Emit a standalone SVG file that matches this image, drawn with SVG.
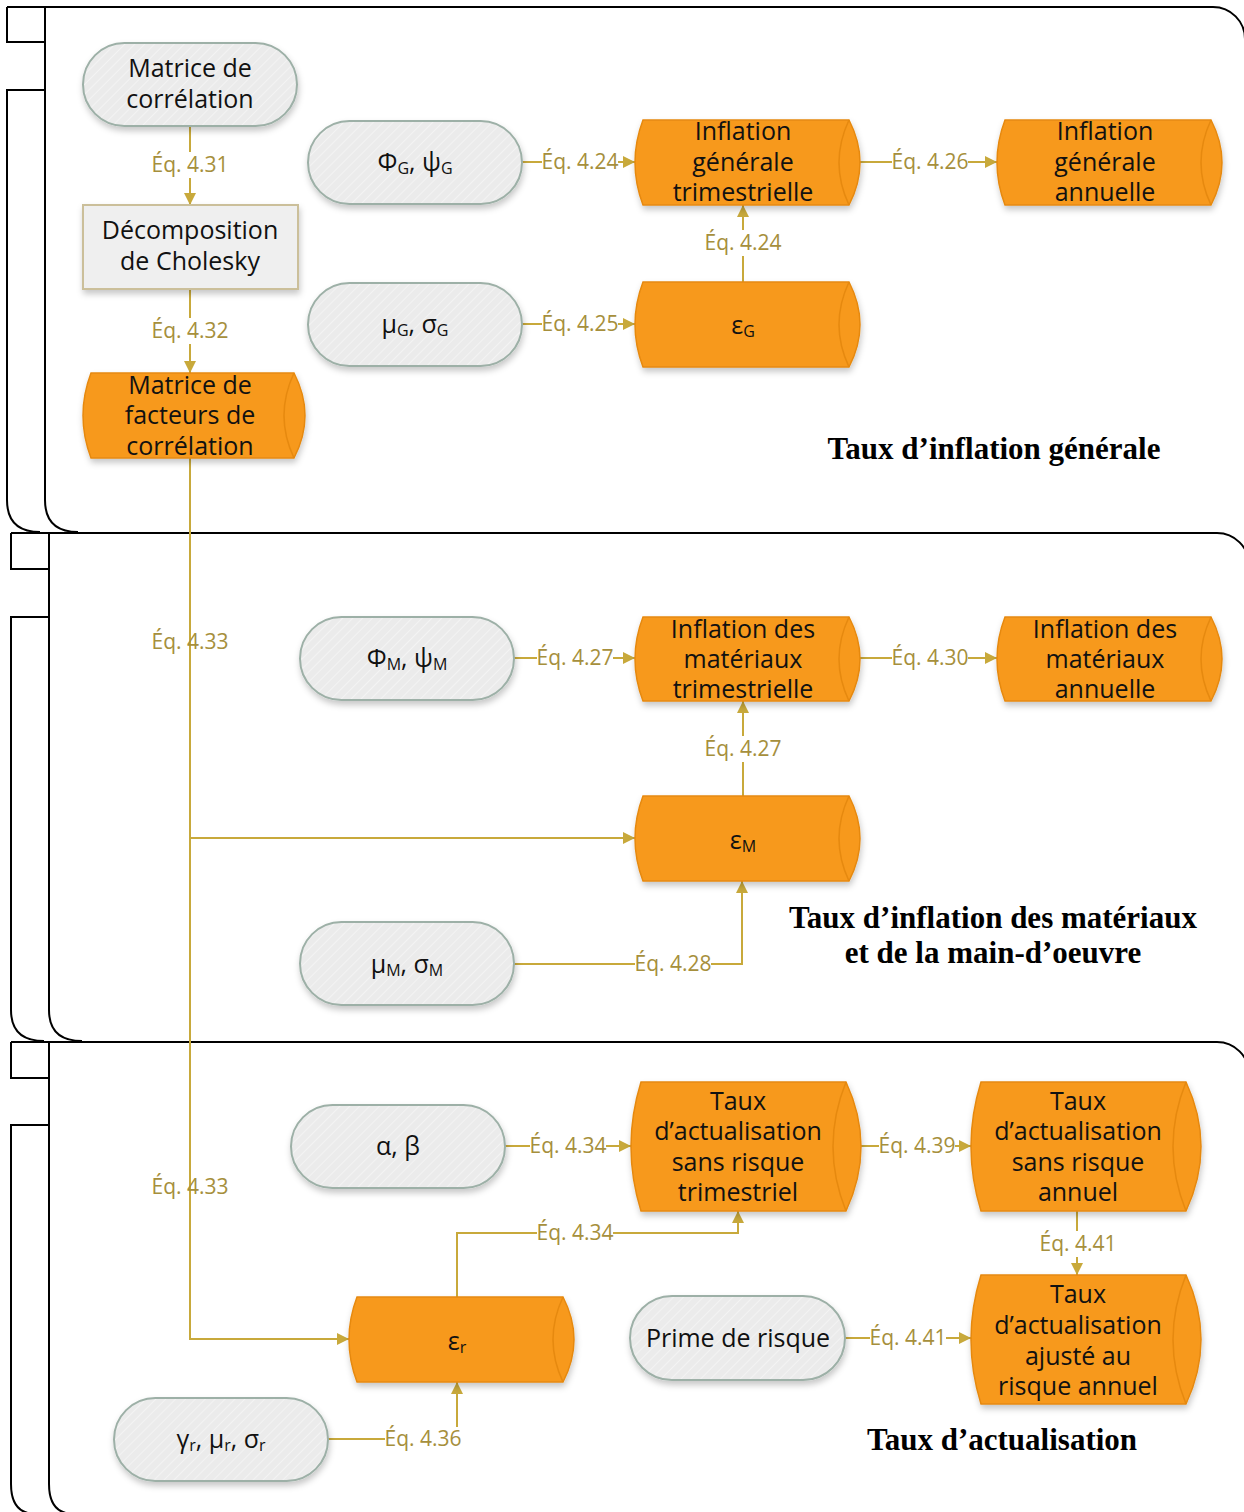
<svg xmlns="http://www.w3.org/2000/svg" width="1244" height="1512" viewBox="0 0 1244 1512">
  <defs>
    <pattern id="hatch" width="7" height="7" patternUnits="userSpaceOnUse" patternTransform="rotate(45)">
      <rect width="7" height="7" fill="#ebebeb"/>
      <line x1="0" y1="0" x2="0" y2="7" stroke="#f6f6f6" stroke-width="1.5"/>
    </pattern>
    <filter id="shadow" x="-10%" y="-15%" width="125%" height="140%">
      <feDropShadow dx="1" dy="4" stdDeviation="3" flood-color="#000" flood-opacity="0.22"/>
    </filter>
    <marker id="arrow" markerUnits="userSpaceOnUse" markerWidth="12" markerHeight="12" viewBox="0 0 12 12" refX="12" refY="6" orient="auto">
      <path d="M0,0 L12,6 L0,12 Z" fill="#c8a93b"/>
    </marker>
    <style>
      .frame { fill: none; stroke: #000; stroke-width: 2; }
      .term { fill: url(#hatch); stroke: #9db0a7; stroke-width: 2; filter: url(#shadow); }
      .proc { fill: #efefef; stroke: #cbbf9a; stroke-width: 2; filter: url(#shadow); }
      .store { fill: #f7991f; stroke: #e6890f; stroke-width: 1.5; filter: url(#shadow); }
      .inner { fill: none; stroke: #e6890f; stroke-width: 1.5; }
      .txt { font-family: "Open Sans", "Noto Sans", sans-serif; font-size: 25px; fill: #111; text-anchor: middle; }
      .sub { font-size: 16px; }
      .edge { fill: none; stroke: #c8a93b; stroke-width: 2; }
      .lbl { font-family: "Open Sans", "Noto Sans", sans-serif; font-size: 21px; fill: #a68f3c; text-anchor: middle; }
      .bg { fill: #fff; }
      .title { font-family: "Liberation Serif", "Times New Roman", serif; font-size: 31px; font-weight: bold; fill: #000; text-anchor: middle; }
    </style>
  </defs>

  <!-- container frames (component outlines) -->
  <g id="frames">
    <path class="frame" d="M7,7 H1213 A32 32 0 0 1 1245,39"/>
    <path class="frame" d="M7,7 V42 H45"/>
    <path class="frame" d="M45,90 H7 V500 Q7,532 40,532"/>
    <path class="frame" d="M45,7 V500 Q45,532 78,532"/>

    <path class="frame" d="M11,533 H1217 A32 32 0 0 1 1249,565"/>
    <path class="frame" d="M11,533 V569 H49"/>
    <path class="frame" d="M49,617 H11 V1010 Q11,1041 44,1041"/>
    <path class="frame" d="M49,533 V1010 Q49,1041 82,1041"/>

    <path class="frame" d="M11,1042 H1217 A32 32 0 0 1 1249,1074"/>
    <path class="frame" d="M11,1042 V1078 H49"/>
    <path class="frame" d="M49,1125 H11 V1484 Q11,1514 36,1514"/>
    <path class="frame" d="M49,1042 V1484 Q49,1514 74,1514"/>
  </g>

  <!-- connectors -->
  <g id="connectors">
    <path class="edge" d="M190,126 V205" marker-end="url(#arrow)"/>
    <path class="edge" d="M190,289 V373" marker-end="url(#arrow)"/>
    <path class="edge" d="M190,458 V838 H635" marker-end="url(#arrow)"/>
    <path class="edge" d="M190,838 V1339 H349" marker-end="url(#arrow)"/>
    <path class="edge" d="M522,162 H635" marker-end="url(#arrow)"/>
    <path class="edge" d="M860,162 H997" marker-end="url(#arrow)"/>
    <path class="edge" d="M743,282 V205" marker-end="url(#arrow)"/>
    <path class="edge" d="M522,324 H635" marker-end="url(#arrow)"/>
    <path class="edge" d="M514,658 H635" marker-end="url(#arrow)"/>
    <path class="edge" d="M860,658 H997" marker-end="url(#arrow)"/>
    <path class="edge" d="M743,796 V701" marker-end="url(#arrow)"/>
    <path class="edge" d="M514,964 H742 V881" marker-end="url(#arrow)"/>
    <path class="edge" d="M505,1146 H631" marker-end="url(#arrow)"/>
    <path class="edge" d="M861,1146 H971" marker-end="url(#arrow)"/>
    <path class="edge" d="M457,1297 V1233 H738 V1211" marker-end="url(#arrow)"/>
    <path class="edge" d="M1077,1211 V1275" marker-end="url(#arrow)"/>
    <path class="edge" d="M845,1338 H971" marker-end="url(#arrow)"/>
    <path class="edge" d="M328,1439 H457 V1382" marker-end="url(#arrow)"/>

    <!-- equation labels -->
    <rect class="bg" x="150" y="152" width="80" height="26"/>
    <text class="lbl" x="190" y="172">Éq. 4.31</text>
    <rect class="bg" x="150" y="318" width="80" height="26"/>
    <text class="lbl" x="190" y="338">Éq. 4.32</text>
    <text class="lbl" x="190" y="649">Éq. 4.33</text>
    <text class="lbl" x="190" y="1194">Éq. 4.33</text>
    <rect class="bg" x="542" y="150" width="76" height="24"/>
    <text class="lbl" x="580" y="169">Éq. 4.24</text>
    <rect class="bg" x="892" y="150" width="76" height="24"/>
    <text class="lbl" x="930" y="169">Éq. 4.26</text>
    <rect class="bg" x="703" y="230" width="80" height="26"/>
    <text class="lbl" x="743" y="250">Éq. 4.24</text>
    <rect class="bg" x="542" y="312" width="76" height="24"/>
    <text class="lbl" x="580" y="331">Éq. 4.25</text>
    <rect class="bg" x="537" y="646" width="76" height="24"/>
    <text class="lbl" x="575" y="665">Éq. 4.27</text>
    <rect class="bg" x="892" y="646" width="76" height="24"/>
    <text class="lbl" x="930" y="665">Éq. 4.30</text>
    <rect class="bg" x="703" y="736" width="80" height="26"/>
    <text class="lbl" x="743" y="756">Éq. 4.27</text>
    <rect class="bg" x="635" y="952" width="76" height="24"/>
    <text class="lbl" x="673" y="971">Éq. 4.28</text>
    <rect class="bg" x="530" y="1134" width="76" height="24"/>
    <text class="lbl" x="568" y="1153">Éq. 4.34</text>
    <rect class="bg" x="879" y="1134" width="76" height="24"/>
    <text class="lbl" x="917" y="1153">Éq. 4.39</text>
    <rect class="bg" x="537" y="1221" width="76" height="24"/>
    <text class="lbl" x="575" y="1240">Éq. 4.34</text>
    <rect class="bg" x="1038" y="1231" width="80" height="26"/>
    <text class="lbl" x="1078" y="1251">Éq. 4.41</text>
    <rect class="bg" x="870" y="1326" width="76" height="24"/>
    <text class="lbl" x="908" y="1345">Éq. 4.41</text>
    <rect class="bg" x="385" y="1427" width="76" height="24"/>
    <text class="lbl" x="423" y="1446">Éq. 4.36</text>
  </g>

  <!-- section 1: general inflation -->
  <g id="matrice-correlation">
    <rect class="term" x="83" y="43" width="214" height="83" rx="41.5"/>
    <text class="txt" x="190" y="77">Matrice de</text>
    <text class="txt" x="190" y="108">corrélation</text>
  </g>
  <g id="cholesky">
    <rect class="proc" x="83" y="205" width="215" height="84"/>
    <text class="txt" x="190" y="239">Décomposition</text>
    <text class="txt" x="190" y="270">de Cholesky</text>
  </g>
  <g id="facteurs-correlation">
    <path class="store" d="M91,373 H294 Q316,415.5 294,458 H91 Q75,415.5 91,373 Z"/>
    <path class="inner" d="M294,373 Q274,415.5 294,458"/>
    <text class="txt" x="190" y="394">Matrice de</text>
    <text class="txt" x="190" y="424">facteurs de</text>
    <text class="txt" x="190" y="455">corrélation</text>
  </g>
  <g id="phi-psi-g">
    <rect class="term" x="308" y="121" width="214" height="83" rx="41.5"/>
    <text class="txt" x="415" y="171">Φ<tspan class="sub" dy="3">G</tspan><tspan dy="-3">, ψ</tspan><tspan class="sub" dy="3">G</tspan></text>
  </g>
  <g id="mu-sigma-g">
    <rect class="term" x="308" y="283" width="214" height="83" rx="41.5"/>
    <text class="txt" x="415" y="333">μ<tspan class="sub" dy="3">G</tspan><tspan dy="-3">, σ</tspan><tspan class="sub" dy="3">G</tspan></text>
  </g>
  <g id="inflation-generale-trim">
    <path class="store" d="M643,120 H849 Q871,162.5 849,205 H643 Q627,162.5 643,120 Z"/>
    <path class="inner" d="M849,120 Q829,162.5 849,205"/>
    <text class="txt" x="743" y="140">Inflation</text>
    <text class="txt" x="743" y="171">générale</text>
    <text class="txt" x="743" y="201">trimestrielle</text>
  </g>
  <g id="inflation-generale-ann">
    <path class="store" d="M1005,120 H1211 Q1233,162.5 1211,205 H1005 Q989,162.5 1005,120 Z"/>
    <path class="inner" d="M1211,120 Q1191,162.5 1211,205"/>
    <text class="txt" x="1105" y="140">Inflation</text>
    <text class="txt" x="1105" y="171">générale</text>
    <text class="txt" x="1105" y="201">annuelle</text>
  </g>
  <g id="epsilon-g">
    <path class="store" d="M643,282 H849 Q871,324.5 849,367 H643 Q627,324.5 643,282 Z"/>
    <path class="inner" d="M849,282 Q829,324.5 849,367"/>
    <text class="txt" x="743" y="334">ε<tspan class="sub" dy="3">G</tspan></text>
  </g>
  <text class="title" x="994" y="459">Taux d’inflation générale</text>

  <!-- section 2: materials and labour inflation -->
  <g id="phi-psi-m">
    <rect class="term" x="300" y="617" width="214" height="83" rx="41.5"/>
    <text class="txt" x="407" y="667">Φ<tspan class="sub" dy="3">M</tspan><tspan dy="-3">, ψ</tspan><tspan class="sub" dy="3">M</tspan></text>
  </g>
  <g id="inflation-materiaux-trim">
    <path class="store" d="M643,617 H849 Q871,659 849,701 H643 Q627,659 643,617 Z"/>
    <path class="inner" d="M849,617 Q829,659 849,701"/>
    <text class="txt" x="743" y="638">Inflation des</text>
    <text class="txt" x="743" y="668">matériaux</text>
    <text class="txt" x="743" y="698">trimestrielle</text>
  </g>
  <g id="inflation-materiaux-ann">
    <path class="store" d="M1005,617 H1211 Q1233,659 1211,701 H1005 Q989,659 1005,617 Z"/>
    <path class="inner" d="M1211,617 Q1191,659 1211,701"/>
    <text class="txt" x="1105" y="638">Inflation des</text>
    <text class="txt" x="1105" y="668">matériaux</text>
    <text class="txt" x="1105" y="698">annuelle</text>
  </g>
  <g id="epsilon-m">
    <path class="store" d="M643,796 H849 Q871,838.5 849,881 H643 Q627,838.5 643,796 Z"/>
    <path class="inner" d="M849,796 Q829,838.5 849,881"/>
    <text class="txt" x="743" y="849">ε<tspan class="sub" dy="3">M</tspan></text>
  </g>
  <g id="mu-sigma-m">
    <rect class="term" x="300" y="922" width="214" height="83" rx="41.5"/>
    <text class="txt" x="407" y="973">μ<tspan class="sub" dy="3">M</tspan><tspan dy="-3">, σ</tspan><tspan class="sub" dy="3">M</tspan></text>
  </g>
  <text class="title" x="993" y="928">Taux d’inflation des matériaux</text>
  <text class="title" x="993" y="963">et de la main-d’oeuvre</text>

  <!-- section 3: discount rate -->
  <g id="alpha-beta">
    <rect class="term" x="291" y="1105" width="214" height="83" rx="41.5"/>
    <text class="txt" x="398" y="1155">α, β</text>
  </g>
  <g id="taux-sans-risque-trim">
    <path class="store" d="M641,1082 H846 Q876,1146.5 846,1211 H641 Q621,1146.5 641,1082 Z"/>
    <path class="inner" d="M846,1082 Q820,1146.5 846,1211"/>
    <text class="txt" x="738" y="1110">Taux</text>
    <text class="txt" x="738" y="1140">d’actualisation</text>
    <text class="txt" x="738" y="1171">sans risque</text>
    <text class="txt" x="738" y="1201">trimestriel</text>
  </g>
  <g id="taux-sans-risque-ann">
    <path class="store" d="M981,1082 H1186 Q1216,1146.5 1186,1211 H981 Q961,1146.5 981,1082 Z"/>
    <path class="inner" d="M1186,1082 Q1160,1146.5 1186,1211"/>
    <text class="txt" x="1078" y="1110">Taux</text>
    <text class="txt" x="1078" y="1140">d’actualisation</text>
    <text class="txt" x="1078" y="1171">sans risque</text>
    <text class="txt" x="1078" y="1201">annuel</text>
  </g>
  <g id="epsilon-r">
    <path class="store" d="M357,1297 H563 Q585,1339.5 563,1382 H357 Q341,1339.5 357,1297 Z"/>
    <path class="inner" d="M563,1297 Q543,1339.5 563,1382"/>
    <text class="txt" x="457" y="1350">ε<tspan class="sub" dy="3">r</tspan></text>
  </g>
  <g id="prime-risque">
    <rect class="term" x="630" y="1296" width="215" height="84" rx="42"/>
    <text class="txt" x="738" y="1347">Prime de risque</text>
  </g>
  <g id="taux-ajuste-risque">
    <path class="store" d="M981,1275 H1186 Q1216,1339.5 1186,1404 H981 Q961,1339.5 981,1275 Z"/>
    <path class="inner" d="M1186,1275 Q1160,1339.5 1186,1404"/>
    <text class="txt" x="1078" y="1303">Taux</text>
    <text class="txt" x="1078" y="1334">d’actualisation</text>
    <text class="txt" x="1078" y="1365">ajusté au</text>
    <text class="txt" x="1078" y="1395">risque annuel</text>
  </g>
  <g id="gamma-mu-sigma-r">
    <rect class="term" x="114" y="1398" width="214" height="83" rx="41.5"/>
    <text class="txt" x="221" y="1448">γ<tspan class="sub" dy="3">r</tspan><tspan dy="-3">, μ</tspan><tspan class="sub" dy="3">r</tspan><tspan dy="-3">, σ</tspan><tspan class="sub" dy="3">r</tspan></text>
  </g>
  <text class="title" x="1002" y="1450">Taux d’actualisation</text>
</svg>
